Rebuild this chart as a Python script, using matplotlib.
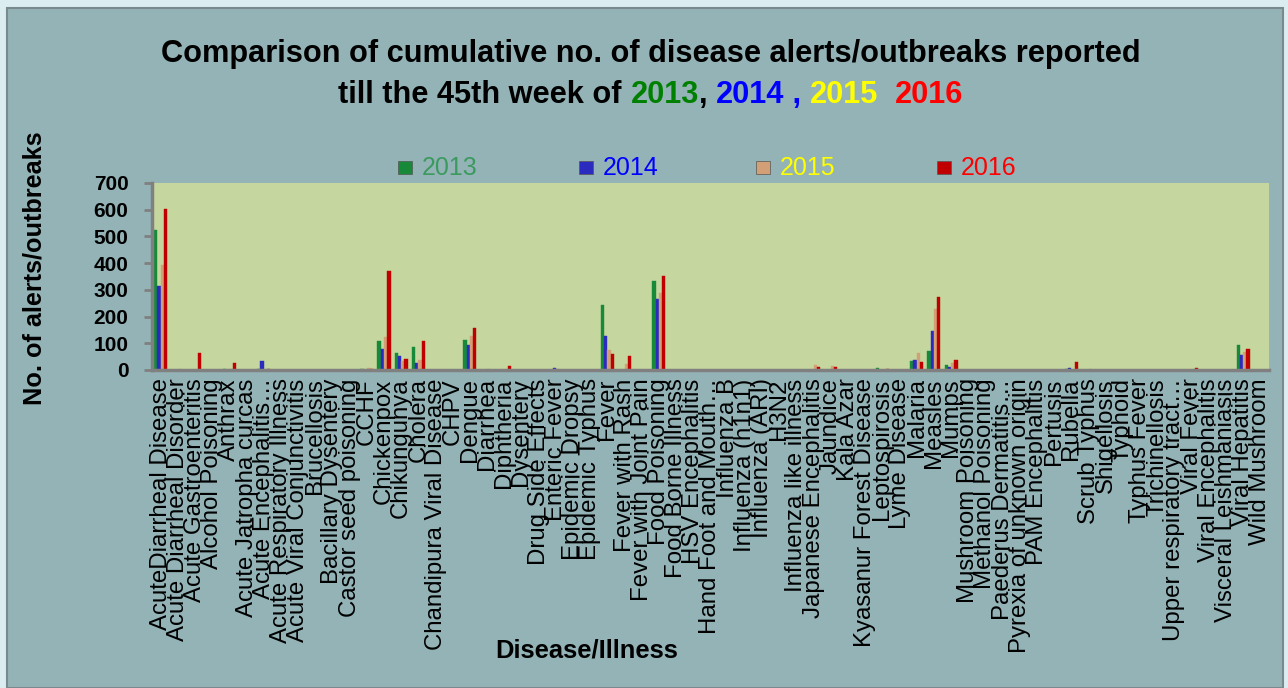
import matplotlib
matplotlib.use('Agg')
import matplotlib.pyplot as plt
import numpy as np
from matplotlib.patches import Rectangle

diseases = [
    'AcuteDiarrheal Disease', 'Acute Diarrheal Disorder', 'Acute Gastroenteritis',
    'Alcohol Poisoning', 'Anthrax', 'Acute Jatropha curcas', 'Acute Encephalitis…',
    'Acute Respiratory Illness', 'Acute Viral Conjunctivitis', 'Brucellosis',
    'Bacillary Dysentery', 'Castor seed poisoning', 'CCHF', 'Chickenpox',
    'Chikungunya', 'Cholera', 'Chandipura Viral Disease', 'CHPV', 'Dengue',
    'Diarrhea', 'Diphtheria', 'Dysentery', 'Drug Side Effects', 'Enteric Fever',
    'Epidemic Dropsy', 'Epidemic Typhus', 'Fever', 'Fever with Rash',
    'Fever with Joint Pain', 'Food Poisoning', 'Food Borne Illness',
    'HSV Encephalitis', 'Hand Foot and Mouth…', 'Influenza B', 'Influenza (h1n1)',
    'Influenza (ARI)', 'H3N2', 'Influenza like illness', 'Japanese Encephalitis',
    'Jaundice', 'Kala Azar', 'Kyasanur Forest Disease', 'Leptospirosis',
    'Lyme Disease', 'Malaria', 'Measles', 'Mumps', 'Mushroom Poisoning',
    'Methanol Poisoning', 'Paederus Dermatitis…', 'Pyrexia of unknown origin',
    'PAM Encephalitis', 'Pertusis', 'Rubella', 'Scrub Typhus', 'Shigellosis',
    'Typhoid', 'Typhus Fever', 'Trichinellosis', 'Upper respiratory tract…',
    'Viral Fever', 'Viral Encephalitis', 'Visceral Leishmaniasis',
    'Viral Hepatitis', 'Wild Mushroom',
]

alerts_2013 = [523, 0, 0, 0, 4, 0, 5, 0, 0, 0, 0, 0, 2, 110, 62, 87, 0, 0, 113,
               0, 0, 0, 0, 0, 0, 0, 245, 0, 0, 332, 0, 0, 0, 0, 0, 0, 0, 0, 0,
               0, 0, 0, 9, 0, 35, 72, 19, 0, 0, 0, 0, 0, 0, 2, 0, 0, 0, 0, 0,
               0, 0, 0, 0, 92, 0]
alerts_2014 = [314, 0, 0, 0, 0, 0, 32, 0, 0, 0, 0, 0, 0, 80, 51, 27, 0, 0, 92,
               0, 0, 0, 0, 8, 0, 0, 129, 0, 0, 264, 0, 0, 0, 0, 0, 0, 0, 0, 0,
               0, 0, 0, 0, 0, 38, 146, 10, 0, 0, 0, 0, 0, 0, 8, 0, 0, 0, 0, 0,
               0, 0, 0, 0, 58, 0]
alerts_2015 = [394, 4, 0, 0, 3, 0, 0, 0, 0, 0, 0, 0, 6, 125, 32, 37, 0, 0, 128,
               2, 0, 0, 0, 3, 0, 0, 75, 23, 0, 290, 0, 0, 0, 0, 1, 0, 0, 0, 20,
               15, 0, 0, 0, 0, 64, 230, 26, 0, 0, 0, 0, 0, 0, 0, 2, 0, 0, 0, 0,
               0, 0, 0, 0, 69, 0]
alerts_2016 = [604, 0, 63, 0, 26, 0, 3, 0, 0, 0, 0, 0, 4, 371, 40, 107, 0, 0, 158,
               0, 16, 0, 0, 0, 0, 0, 61, 53, 0, 352, 0, 0, 0, 0, 0, 0, 0, 0, 10,
               12, 0, 0, 4, 0, 31, 273, 38, 0, 0, 0, 0, 0, 0, 30, 0, 0, 0, 0, 0,
               0, 8, 0, 0, 79, 0]

years = ['2013', '2014', '2015', '2016']
bar_colors = ['#178a3a', '#2b2bbf', '#d39f76', '#c00000']
legend_colors = ['#3c9a5f', '#0000ff', '#ffff00', '#ff0000']
title_colors = ['#008000', '#0000ff', '#ffff00', '#ff0000']

plain = ['Liberation Sans', 'DejaVu Sans']

W, H = 1288, 688
fig = plt.figure(figsize=(W / 100, H / 100), dpi=100, facecolor='#dcedf2')
fig.patches.append(Rectangle((7 / W, 0), (W - 12) / W, (H - 8) / H,
                             transform=fig.transFigure, facecolor='#93b3b7',
                             edgecolor='#7a8a8c', lw=1.5, zorder=-10))
renderer = fig.canvas.get_renderer()


def fit_length(t, target, vertical=False):
    # scale a text so that it spans the wanted number of pixels
    bb = t.get_window_extent(renderer)
    size = bb.height if vertical else bb.width
    t.set_fontsize(t.get_fontsize() * target / size)


ax = fig.add_axes([152 / W, 1 - 370 / H, 1117 / W, 187 / H])
ax.set_facecolor('#c5d79e')

x = np.arange(len(diseases))
w = 0.19
series = [alerts_2013, alerts_2014, alerts_2015, alerts_2016]
for k, (vals, col) in enumerate(zip(series, bar_colors)):
    ax.bar(x + (k - 1.5) * w, vals, w, color=col, edgecolor=col, linewidth=0.3)

ax.set_xlim(-0.5, len(diseases) - 0.5)
ax.set_ylim(0, 700)
ax.set_yticks(range(0, 701, 100))
ax.set_xticks(x)
ax.set_xticklabels(diseases, rotation=90, fontsize=17.3, family=plain)
ax.tick_params(axis='x', length=0, pad=6)
ax.tick_params(axis='y', length=6, width=2, color='#808080', pad=11)
for lab in ax.get_yticklabels():
    lab.set_fontsize(15)
    lab.set_fontweight('bold')
    lab.set_family(plain)
for s in ['top', 'right']:
    ax.spines[s].set_visible(False)
for s in ['left', 'bottom']:
    ax.spines[s].set_color('#808080')
    ax.spines[s].set_linewidth(2.5)

ylab = fig.text(35 / W, 1 - 268 / H, 'No. of alerts/outbreaks', rotation=90,
                ha='center', va='center', fontsize=15, fontweight='bold', family=plain)
fit_length(ylab, 275, vertical=True)
xlab = fig.text(587 / W, 1 - 658 / H, 'Disease/Illness', ha='center', va='baseline',
                fontsize=18, fontweight='bold', family=plain)
fit_length(xlab, 183)

# title, second line has coloured years
t1 = fig.text(651 / W, 1 - 62 / H,
              'Comparison of cumulative no. of disease alerts/outbreaks reported',
              ha='center', va='baseline', fontsize=22, fontweight='bold', family=plain)
fit_length(t1, 978)
tsize = t1.get_fontsize()
pieces = [('till the 45th week of ', 'black'), (years[0], title_colors[0]),
          (', ', 'black'), (years[1], title_colors[1]), (' , ', title_colors[1]),
          (years[2], title_colors[2]), ('  ', 'black'), (years[3], title_colors[3])]
texts = []
for s, c in pieces:
    t = fig.text(0, 1 - 103 / H, s, ha='left', va='baseline', fontsize=tsize,
                 fontweight='bold', family=plain, color=c)
    texts.append(t)
widths = [t.get_window_extent(renderer).width for t in texts]
xpos = 651 - sum(widths) / 2
for t, wd in zip(texts, widths):
    t.set_x(xpos / W)
    xpos += wd

# legend
marker_x = [398, 579, 756, 937]
for yr, mx, bc, tc in zip(years, marker_x, bar_colors, legend_colors):
    fig.patches.append(Rectangle((mx / W, 1 - 174 / H), 14 / W, 13 / H,
                                 transform=fig.transFigure, facecolor=bc,
                                 edgecolor='#555555', lw=0.5))
    fig.text((mx + 24) / W, 1 - 175 / H, yr, ha='left', va='baseline',
             fontsize=18, family=plain, color=tc)

fig.savefig('out.png', dpi=100, facecolor=fig.get_facecolor())
